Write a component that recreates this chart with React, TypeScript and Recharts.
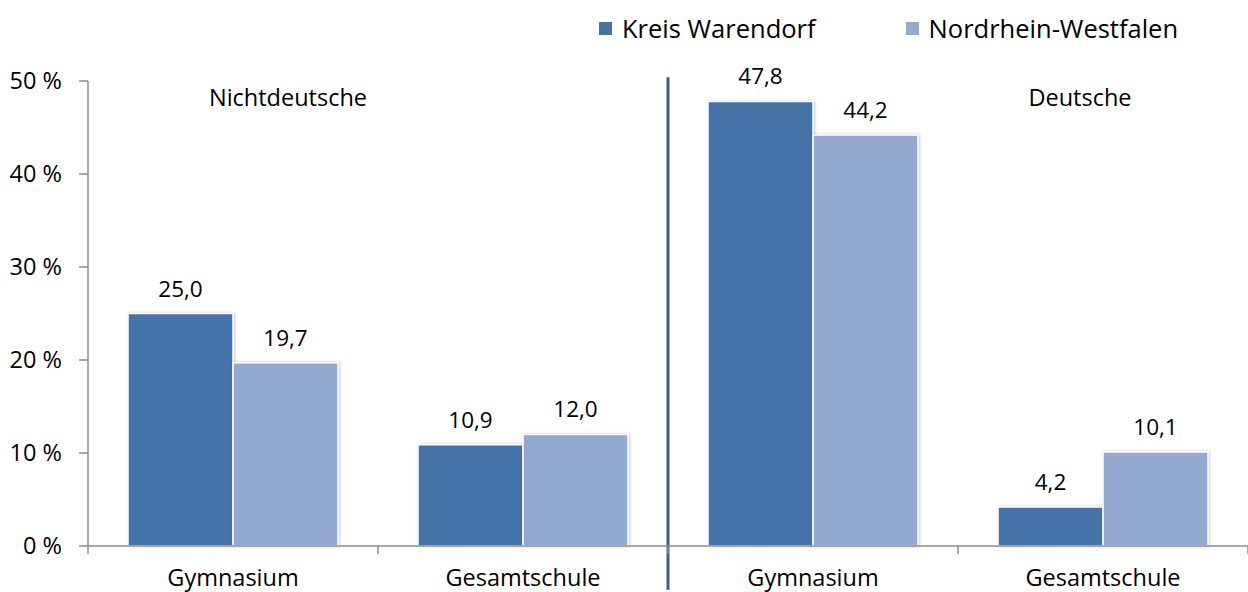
import React from 'react';
import {
  BarChart,
  Bar,
  XAxis,
  YAxis,
  LabelList,
  ReferenceLine,
  Rectangle,
} from 'recharts';

const FONT = '"Open Sans", Lato, sans-serif';
const DARK = '#4572a7';
const LIGHT = '#94a9d0';

const categories = ['Gymnasium', 'Gesamtschule', 'Gymnasium', 'Gesamtschule'];
const kreisWarendorf = [25.0, 10.9, 47.8, 4.2];
const nordrheinWestfalen = [19.7, 12.0, 44.2, 10.1];
const yTicks = [0, 10, 20, 30, 40, 50];
const groups = ['Nichtdeutsche', 'Deutsche'];

const data = categories.map((name, i) => ({
  key: `${name}-${i}`,
  name,
  kw: kreisWarendorf[i],
  nrw: nordrheinWestfalen[i],
}));

const fmt = (v: any) => Number(v).toFixed(1).replace('.', ',');

function CategoryTick(props: any) {
  const { x, y, payload, index } = props;
  const half = payload?.offset || 145;
  return (
    <g>
      <line x1={x - half} y1={y - 8} x2={x - half} y2={y} stroke="#8c8c8c" strokeWidth={1.5} />
      {index === categories.length - 1 && (
        <line x1={x + half} y1={y - 8} x2={x + half} y2={y} stroke="#8c8c8c" strokeWidth={1.5} />
      )}
      <text x={x} y={y + 32} textAnchor="middle" fill="#000" fontSize={23.5} fontFamily={FONT}>
        {categories[index]}
      </text>
    </g>
  );
}

const ShadowBar = (props: any) => (
  <Rectangle {...props} style={{ filter: 'drop-shadow(1.5px 0px 1.5px rgba(0,0,0,0.22))' }} />
);

function LegendBox() {
  const items = [
    { label: 'Kreis Warendorf', color: DARK },
    { label: 'Nordrhein-Westfalen', color: LIGHT },
  ];
  return (
    <div
      style={{
        position: 'absolute',
        left: 599,
        top: 11,
        display: 'flex',
        gap: 90,
        fontFamily: FONT,
        fontSize: 25.5,
        color: '#000',
        lineHeight: '34px',
      }}
    >
      {items.map((it) => (
        <div key={it.label} style={{ display: 'flex', alignItems: 'center' }}>
          <span style={{ width: 13, height: 13, background: it.color, marginRight: 10, display: 'inline-block' }} />
          <span>{it.label}</span>
        </div>
      ))}
    </div>
  );
}

function GroupLabel({ text, cx }: { text: string; cx: number }) {
  return (
    <div
      style={{
        position: 'absolute',
        left: cx - 150,
        width: 300,
        top: 80,
        textAlign: 'center',
        fontFamily: FONT,
        fontSize: 23.5,
        lineHeight: '34px',
        color: '#000',
      }}
    >
      {text}
    </div>
  );
}

export default function App() {
  return (
    <div style={{ position: 'absolute', left: 0, top: 0, width: 1248, height: 592, background: '#fff' }}>
      <LegendBox />
      <BarChart
        width={1248}
        height={592}
        data={data}
        margin={{ top: 81, right: 0, left: 0, bottom: 0 }}
        barCategoryGap={40}
        barGap={0}
      >
        <XAxis
          dataKey="key"
          height={46}
          axisLine={{ stroke: '#8c8c8c', strokeWidth: 1.5 }}
          tickLine={false}
          interval={0}
          tick={<CategoryTick />}
        />
        <YAxis
          width={88}
          domain={[0, 50]}
          ticks={yTicks}
          interval={0}
          tickFormatter={(v) => `${v} %`}
          axisLine={{ stroke: '#8c8c8c', strokeWidth: 1.5 }}
          tickLine={{ stroke: '#8c8c8c', strokeWidth: 1.5 }}
          tickSize={9}
          tickMargin={17}
          tick={{ fill: '#000', fontSize: 23.5, fontFamily: FONT }}
        />
        <Bar dataKey="kw" fill={DARK} stroke="#fff" strokeWidth={1.5} shape={ShadowBar} isAnimationActive={false}>
          <LabelList dataKey="kw" position="top" offset={17} formatter={fmt} fill="#000" fontSize={22.5} fontFamily={FONT} />
        </Bar>
        <Bar dataKey="nrw" fill={LIGHT} stroke="#fff" strokeWidth={1.5} shape={ShadowBar} isAnimationActive={false}>
          <LabelList dataKey="nrw" position="top" offset={17} formatter={fmt} fill="#000" fontSize={22.5} fontFamily={FONT} />
        </Bar>
        <ReferenceLine
          segment={[{ x: data[2].key, y: -4.7 }, { x: data[2].key, y: 50.4 }]}
          position="start"
          stroke="#3c5d8c"
          strokeWidth={3}
          ifOverflow="visible"
        />
      </BarChart>
      <GroupLabel text={groups[0]} cx={288} />
      <GroupLabel text={groups[1]} cx={1080} />
    </div>
  );
}
